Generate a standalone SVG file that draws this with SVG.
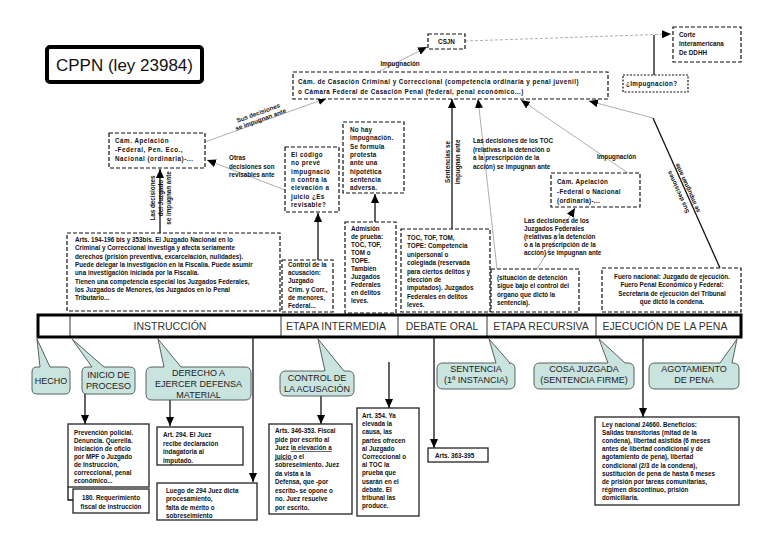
<svg xmlns="http://www.w3.org/2000/svg" width="768" height="543" viewBox="0 0 768 543">
<defs>
<style>
.t{font-family:"Liberation Sans",Arial,sans-serif;font-size:6.3px;font-weight:bold;fill:#111}
.dash{fill:#fff;stroke:#111;stroke-width:1.2;stroke-dasharray:4,2}
.dot{fill:#fff;stroke:#111;stroke-width:1.2;stroke-dasharray:2,1.5}
.solid{fill:#fff;stroke:#222;stroke-width:1.3}
.co{fill:#c9e3df;stroke:#56625f;stroke-width:1}
.ct{font-family:"Liberation Sans",Arial,sans-serif;font-size:9px;fill:#222;text-anchor:middle}
.bt{font-family:"Liberation Sans",Arial,sans-serif;font-size:10.5px;fill:#333;text-anchor:middle}
.blk{stroke:#111;stroke-width:1.3;fill:none}
.gry{stroke:#999;stroke-width:0.8;fill:none}
.mid{text-anchor:middle}
</style>
<marker id="ah" markerUnits="userSpaceOnUse" markerWidth="9" markerHeight="8" refX="9" refY="4" orient="auto"><path d="M0,0 L9,4 L0,8 z" fill="#000"/></marker>
</defs>
<rect x="0" y="0" width="768" height="543" fill="#fff"/>

<g id="connectors">
<line class="gry" x1="380" y1="71" x2="427" y2="47" marker-end="url(#ah)"/>
<path class="gry" d="M465,41 L671,34" stroke-dasharray="3,2" marker-end="url(#ah)"/>
<line class="blk" x1="654" y1="75" x2="654" y2="35" stroke-width="0.9"/>
<line class="gry" x1="205" y1="142" x2="327" y2="98" marker-end="url(#ah)"/>
<line class="gry" x1="285" y1="190" x2="207" y2="160" marker-end="url(#ah)"/>
<line class="blk" x1="160" y1="233" x2="160" y2="169" marker-end="url(#ah)"/>
<line class="blk" x1="318" y1="260" x2="318" y2="213" marker-end="url(#ah)"/>
<line class="blk" x1="375" y1="222" x2="375" y2="194" marker-end="url(#ah)"/>
<line class="blk" x1="452" y1="229" x2="452" y2="99" marker-end="url(#ah)"/>
<line class="gry" x1="497" y1="269" x2="478" y2="99" marker-end="url(#ah)"/>
<line class="gry" x1="628" y1="173" x2="521" y2="100" marker-end="url(#ah)"/>
<line class="gry" x1="537" y1="269" x2="575" y2="208" marker-end="url(#ah)"/>
<line class="blk" x1="720" y1="268" x2="653" y2="118" stroke-width="1"/>
<line class="gry" x1="653" y1="118" x2="589" y2="101" marker-end="url(#ah)"/>
<line class="blk" x1="85" y1="394" x2="85" y2="424" marker-end="url(#ah)"/>
<line class="blk" x1="170" y1="400" x2="170" y2="426" marker-end="url(#ah)"/>
<line class="blk" x1="253" y1="337" x2="253" y2="482" marker-end="url(#ah)"/>
<line class="blk" x1="321" y1="396" x2="321" y2="424" marker-end="url(#ah)"/>
<line class="blk" x1="389" y1="362" x2="389" y2="408" marker-end="url(#ah)"/>
<line class="blk" x1="434" y1="337" x2="434" y2="448" marker-end="url(#ah)"/>
<line class="blk" x1="643" y1="337" x2="643" y2="417" marker-end="url(#ah)"/>
<path class="blk" d="M68,487 L68,500 L73,500" stroke-width="1"/>

<text class="t mid" x="400" y="65.5">Impugnación</text>
<g transform="translate(259,115) rotate(-20)"><text class="t mid" x="0" y="0">Sus decisiones</text><text class="t mid" x="0" y="7">se impugnan ante</text></g>
<text class="t" x="229" y="160">Otras</text>
<text class="t" x="229" y="168.5">decisiones son</text>
<text class="t" x="229" y="177">revisables ante</text>
<text class="t mid" transform="translate(154.5,198) rotate(-90)">Las decisiones</text>
<text class="t mid" transform="translate(162.5,198) rotate(-90)">del Juzgado</text>
<text class="t mid" transform="translate(170.5,198) rotate(-90)">se impugnan ante</text>
<text class="t mid" transform="translate(450,162) rotate(-90)">Sentencias se</text>
<text class="t mid" transform="translate(459.5,162) rotate(-90)">impugnan ante</text>
<text class="t" x="473" y="143" font-size="6.6">Las decisiones de los TOC</text>
<text class="t" x="473" y="151.5" font-size="6.6">(relativas a la detención o</text>
<text class="t" x="473" y="160" font-size="6.6">a la prescripción de la</text>
<text class="t" x="473" y="168.5" font-size="6.6">acción) se impugnan ante</text>
<text class="t" x="597" y="159">Impugnación</text>
<text class="t" x="524" y="223">Las decisiones de los</text>
<text class="t" x="524" y="231">Juzgados Federales</text>
<text class="t" x="524" y="239">(relativas a la detención</text>
<text class="t" x="524" y="247">o a la prescripción de la</text>
<text class="t" x="524" y="255">acción) se impugnan ante</text>
<g transform="translate(683,190) rotate(-114)"><text class="t mid" x="0" y="-3">Sus decisiones</text><text class="t mid" x="0" y="7">se impugnan ante</text></g>
</g>

<g id="title"><rect x="47" y="47" width="155" height="35" rx="3" fill="#fff" stroke="#000" stroke-width="4"/><text x="124.5" y="71" font-family="Liberation Sans, Arial, sans-serif" font-size="17" text-anchor="middle" fill="#111">CPPN (ley 23984)</text></g>

<g id="csjn"><rect class="dash" x="428" y="34" width="37" height="15"/><text class="t mid" x="446.5" y="44" font-size="7">CSJN</text></g>

<g id="corte"><rect class="dash" x="673" y="27" width="68" height="35"/><text class="t" x="679" y="37">Corte</text><text class="t" x="679" y="46">Interamericana</text><text class="t" x="679" y="55">De DDHH</text></g>

<g id="impugnacion"><rect class="dot" x="623" y="75" width="65" height="17"/><text class="t" x="626" y="86" font-size="7.2" letter-spacing="0.35">¿Impugnación?</text></g>

<g id="casacion"><rect class="dash" x="293" y="72" width="315" height="27"/><text class="t" x="298" y="83.5" font-size="7.5" letter-spacing="0.45">Cám. de Casación Criminal y Correccional (competencia ordinaria y penal juvenil)</text><text class="t" x="298" y="93.5" font-size="7.5" letter-spacing="0.45">o Cámara Federal de Casación Penal (federal, penal económico...)</text></g>

<g id="camapel1"><rect class="dash" x="109" y="133" width="96" height="35"/><g letter-spacing="0.5"><text class="t" x="115" y="143" font-size="7.8">Cám. Apelación</text><text class="t" x="115" y="152" font-size="7.8"> -Federal, Pen. Eco.,</text><text class="t" x="115" y="161" font-size="7.8">Nacional (ordinaria)-...</text></g></g>

<g id="elcodigo"><rect class="dash" x="285" y="147" width="54" height="65"/>
<text class="t" font-size="7" letter-spacing="0.4"><tspan x="291" y="157">El código</tspan><tspan x="291" y="165.3">no prevé</tspan><tspan x="291" y="173.6">impugnació</tspan><tspan x="291" y="181.9">n contra la</tspan><tspan x="291" y="190.2">elevación a</tspan><tspan x="291" y="198.5">juicio ¿Es</tspan><tspan x="291" y="206.8">revisable?</tspan></text></g>

<g id="nohay"><rect class="dash" x="343" y="122" width="61" height="71"/>
<text class="t" font-size="7" letter-spacing="0.2"><tspan x="350" y="132">No hay</tspan><tspan x="350" y="140.3">impugnación.</tspan><tspan x="350" y="148.6">Se formula</tspan><tspan x="350" y="156.9">protesta</tspan><tspan x="350" y="165.2">ante una</tspan><tspan x="350" y="173.5">hipotética</tspan><tspan x="350" y="181.8">sentencia</tspan><tspan x="350" y="190.1">adversa.</tspan></text></g>

<g id="arts194"><rect class="dash" x="67" y="233" width="213" height="78"/>
<text class="t" font-size="6.9"><tspan x="75" y="242">Arts. 194-196 bis y 353bis. El Juzgado Nacional en lo</tspan><tspan x="75" y="250.3">Criminal y Correccional investiga y afecta seriamente</tspan><tspan x="75" y="258.6">derechos (prisión preventiva, excarcelación, nulidades).</tspan><tspan x="75" y="266.9">Puede delegar la investigación en la Fiscalía. Puede asumir</tspan><tspan x="75" y="275.2">una investigación iniciada por la Fiscalía.</tspan><tspan x="75" y="283.5">Tienen una competencia especial los Juzgados Federales,</tspan><tspan x="75" y="291.8">los Juzgados de Menores, los Juzgados en lo Penal</tspan><tspan x="75" y="300.1">Tributario...</tspan></text></g>

<g id="control"><rect class="dash" x="282" y="260" width="51" height="52"/>
<text class="t"><tspan x="288" y="267">Control de la</tspan><tspan x="288" y="275.2">acusación:</tspan><tspan x="288" y="283.4">Juzgado</tspan><tspan x="288" y="291.6">Crim. y Corr.,</tspan><tspan x="288" y="299.8">de menores,</tspan><tspan x="288" y="308">Federal...</tspan></text></g>

<g id="admision"><rect class="dash" x="345" y="222" width="51" height="91"/>
<text class="t"><tspan x="351" y="231">Admisión</tspan><tspan x="351" y="239">de prueba:</tspan><tspan x="351" y="247">TOC, TOF,</tspan><tspan x="351" y="255">TOM o</tspan><tspan x="351" y="263">TOPE.</tspan><tspan x="351" y="271">También</tspan><tspan x="351" y="279">Juzgados</tspan><tspan x="351" y="287">Federales</tspan><tspan x="351" y="295">en delitos</tspan><tspan x="351" y="303">leves.</tspan></text></g>

<g id="debate"><rect class="dash" x="401" y="229" width="89" height="83"/>
<text class="t"><tspan x="407" y="240">TOC, TOF, TOM,</tspan><tspan x="407" y="248.4">TOPE: Competencia</tspan><tspan x="407" y="256.8">unipersonal o</tspan><tspan x="407" y="265.2">colegiada (reservada</tspan><tspan x="407" y="273.6">para ciertos delitos y</tspan><tspan x="407" y="282">elección de</tspan><tspan x="407" y="290.4">imputados). Juzgados</tspan><tspan x="407" y="298.8">Federales en delitos</tspan><tspan x="407" y="307.2">leves.</tspan></text></g>

<g id="detencion"><rect class="dash" x="491" y="269" width="88" height="43"/>
<text class="t"><tspan x="497" y="280">(situación de detención</tspan><tspan x="497" y="288.4">sigue bajo el control del</tspan><tspan x="497" y="296.8">órgano que dictó la</tspan><tspan x="497" y="305.2">sentencia).</tspan></text></g>

<g id="fuero"><rect class="dash" x="602" y="268" width="139" height="44"/>
<text class="t mid"><tspan x="672" y="279">Fuero nacional: Juzgado de ejecución.</tspan><tspan x="672" y="287.4">Fuero Penal Económico y Federal:</tspan><tspan x="672" y="295.8">Secretaría de ejecución del Tribunal</tspan><tspan x="672" y="304.2">que dictó la condena.</tspan></text></g>

<g id="camapel2"><rect class="dash" x="551" y="173" width="89" height="34"/><g letter-spacing="0.3"><text class="t" x="557" y="184" font-size="8">Cám. Apelación</text><text class="t" x="557" y="193.5" font-size="8"> -Federal o Nacional</text><text class="t" x="557" y="203" font-size="8">(ordinaria)-...</text></g></g>

<g id="etapas">
<rect x="38" y="315" width="703" height="22" fill="#fff" stroke="#000" stroke-width="3"/>
<line x1="70" y1="316" x2="70" y2="336" stroke="#000" stroke-width="0.8"/>
<line x1="281" y1="316" x2="281" y2="336" stroke="#000" stroke-width="0.8"/>
<line x1="398" y1="316" x2="398" y2="336" stroke="#000" stroke-width="0.8"/>
<line x1="487" y1="316" x2="487" y2="336" stroke="#000" stroke-width="0.8"/>
<line x1="596" y1="316" x2="596" y2="336" stroke="#000" stroke-width="0.8"/>
<text class="bt" x="170" y="330">INSTRUCCIÓN</text>
<text class="bt" x="336" y="330">ETAPA INTERMEDIA</text>
<text class="bt" x="442" y="330">DEBATE ORAL</text>
<text class="bt" x="541" y="330">ETAPA RECURSIVA</text>
<text class="bt" x="665" y="330">EJECUCIÓN DE LA PENA</text>
</g>

<g id="hecho"><path class="co" d="M37,367 L40,367 L37,339 L50,367 L65,367 Q70,367 70,372 L70,389 Q70,394 65,394 L37,394 Q32,394 32,389 L32,372 Q32,367 37,367 Z"/><text class="ct" x="51" y="384">HECHO</text></g>
<g id="inicio"><path class="co" d="M87,367 L92,367 L72,339 L104,367 L130,367 Q135,367 135,372 L135,389 Q135,394 130,394 L87,394 Q82,394 82,389 L82,372 Q82,367 87,367 Z"/><text class="ct" x="108.5" y="378">INICIO DE</text><text class="ct" x="108.5" y="389">PROCESO</text></g>
<g id="derecho"><path class="co" d="M152,367 L164,367 L158,339 L181,367 L245,367 Q251,367 251,373 L251,394 Q251,400 245,400 L152,400 Q146,400 146,394 L146,373 Q146,367 152,367 Z"/><text class="ct" x="198.5" y="376">DERECHO A</text><text class="ct" x="198.5" y="387">EJERCER DEFENSA</text><text class="ct" x="198.5" y="398">MATERIAL</text></g>
<g id="controlacus"><path class="co" d="M286,371 L325,371 L318,339 L344,371 L348,371 Q354,371 354,377 L354,390 Q354,396 348,396 L286,396 Q280,396 280,390 L280,377 Q280,371 286,371 Z"/><text class="ct" x="317" y="381">CONTROL DE</text><text class="ct" x="317" y="392">LA ACUSACIÓN</text></g>
<g id="sentencia"><path class="co" d="M443,363 L496,363 L489,339 L510,363 L509,363 Q515,363 515,369 L515,383 Q515,389 509,389 L443,389 Q437,389 437,383 L437,369 Q437,363 443,363 Z"/><text class="ct" x="476" y="372">SENTENCIA</text><text class="ct" x="476" y="383">(1ª INSTANCIA)</text></g>
<g id="cosajuzgada"><path class="co" d="M540,363 L608,363 L599,339 L625,363 L628,363 Q634,363 634,369 L634,383 Q634,389 628,389 L540,389 Q534,389 534,383 L534,369 Q534,363 540,363 Z"/><text class="ct" x="584" y="372">COSA JUZGADA</text><text class="ct" x="584" y="383">(SENTENCIA FIRME)</text></g>
<g id="agotamiento"><path class="co" d="M655,363 L720,363 L737,339 L732,363 L733,363 Q739,363 739,369 L739,383 Q739,389 733,389 L655,389 Q649,389 649,383 L649,369 Q649,363 655,363 Z"/><text class="ct" x="694" y="372">AGOTAMIENTO</text><text class="ct" x="694" y="383">DE PENA</text></g>

<g id="prevencion"><rect class="solid" x="68" y="424" width="81" height="63"/>
<text class="t" font-size="6.6"><tspan x="74" y="435">Prevención policial.</tspan><tspan x="74" y="443">Denuncia. Querella.</tspan><tspan x="74" y="451">Iniciación de oficio</tspan><tspan x="74" y="459">por MPF o Juzgado</tspan><tspan x="74" y="467">de Instrucción,</tspan><tspan x="74" y="475">correccional, penal</tspan><tspan x="74" y="483">económico...</tspan></text></g>

<g id="req180"><rect class="solid" x="73" y="489" width="76" height="24"/><text class="t mid" font-size="7"><tspan x="111" y="499.5">180. Requerimiento</tspan><tspan x="111" y="508.5">fiscal de instrucción</tspan></text></g>

<g id="art294"><rect class="solid" x="157" y="427" width="86" height="38"/><text class="t" font-size="6.9"><tspan x="163" y="437">Art. 294. El Juez</tspan><tspan x="163" y="445.5">recibe declaración</tspan><tspan x="163" y="454">indagatoria al</tspan><tspan x="163" y="462.5">imputado.</tspan></text></g>

<g id="luego"><rect class="solid" x="157" y="483" width="100" height="37"/><text class="t" font-size="6.9"><tspan x="166" y="492.5">Luego de 294 Juez dicta</tspan><tspan x="166" y="501">procesamiento,</tspan><tspan x="166" y="509.5">falta de mérito o</tspan><tspan x="166" y="518">sobreseimiento</tspan></text></g>

<g id="arts346"><rect class="solid" x="269" y="424" width="83" height="90"/><text class="t"><tspan x="275" y="433">Arts. 346-353. Fiscal</tspan><tspan x="275" y="441.5">pide por escrito al</tspan><tspan x="275" y="450">Juez <tspan text-decoration="underline">la elevación a</tspan></tspan><tspan x="275" y="458.5"><tspan text-decoration="underline">juicio </tspan> o el</tspan><tspan x="275" y="467">sobreseimiento. Juez</tspan><tspan x="275" y="475.5">da vista a la</tspan><tspan x="275" y="484">Defensa, que -por</tspan><tspan x="275" y="492.5">escrito- se opone o</tspan><tspan x="275" y="501">no. Juez resuelve</tspan><tspan x="275" y="509.5">por escrito.</tspan></text></g>

<g id="art354"><rect class="solid" x="357" y="408" width="62" height="108"/><text class="t"><tspan x="362" y="418">Art. 354. Ya</tspan><tspan x="362" y="426.2">elevada la</tspan><tspan x="362" y="434.4">causa, las</tspan><tspan x="362" y="442.6">partes ofrecen</tspan><tspan x="362" y="450.8">al Juzgado</tspan><tspan x="362" y="459">Correccional o</tspan><tspan x="362" y="467.2">al TOC la</tspan><tspan x="362" y="475.4">prueba que</tspan><tspan x="362" y="483.6">usarán en el</tspan><tspan x="362" y="491.8">debate. El</tspan><tspan x="362" y="500">tribunal las</tspan><tspan x="362" y="508.2">produce.</tspan></text></g>

<g id="arts363"><rect class="solid" x="428" y="448" width="60" height="14"/><text class="t" x="435" y="457.5">Arts. 363-395</text></g>

<g id="ley"><rect class="solid" x="595" y="417" width="144" height="88"/><text class="t"><tspan x="602" y="427">Ley nacional 24660. Beneficios:</tspan><tspan x="602" y="435.1">Salidas transitorias (mitad de la</tspan><tspan x="602" y="443.2">condena), libertad asistida (6 meses</tspan><tspan x="602" y="451.3">antes de libertad condicional y de</tspan><tspan x="602" y="459.4">agotamiento de pena), libertad</tspan><tspan x="602" y="467.5">condicional (2/3 de la condena),</tspan><tspan x="602" y="475.6">sustitución de pena de hasta 6 meses</tspan><tspan x="602" y="483.7">de prisión por tareas comunitarias,</tspan><tspan x="602" y="491.8">régimen discontinuo, prisión</tspan><tspan x="602" y="499.9">domiciliaria.</tspan></text></g>
</svg>
